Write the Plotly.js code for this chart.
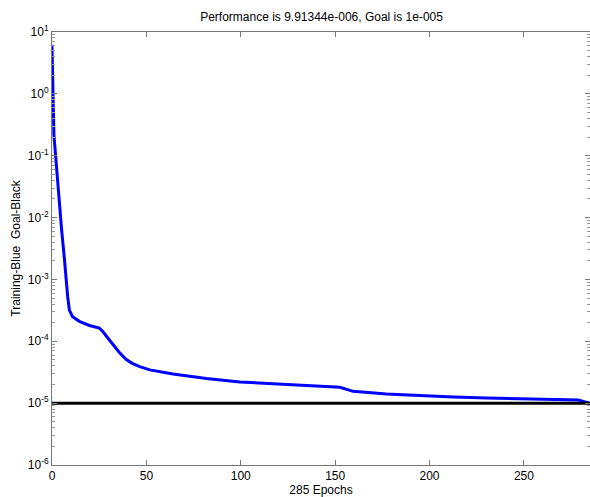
<!DOCTYPE html>
<html>
<head>
<meta charset="utf-8">
<script src="https://cdn.plot.ly/plotly-3.0.1.min.js"></script>
<style>html,body{margin:0;padding:0;background:#fff;}#chart{width:590px;height:497px;}</style>
</head>
<body>
<div id="chart"></div>
<script>
// Training performance
var epochs = [0, 1, 1.8, 3.6, 5.1, 6.6, 7.4, 8.3, 9.2, 10.9, 14.5, 19.8, 25.1, 26.9, 30.4, 33.1, 35.7, 39.2, 42.5, 46.5, 51.8, 64.1, 81.8, 99.5, 117, 134.8, 152.5, 155, 159.5, 177.2, 194.9, 212.5, 230.2, 247.9, 265.5, 278.7, 285];
var perf = [6.2, 0.22, 0.11, 0.019, 0.0063, 0.0021, 0.00098, 5.3e-4, 3.2e-4, 2.5e-4, 2.1e-4, 1.8e-4, 1.63e-4, 1.44e-4, 1.05e-4, 8.1e-5, 6.6e-5, 5.1e-5, 4.4e-5, 3.9e-5, 3.45e-5, 2.96e-5, 2.5e-5, 2.2e-5, 2.04e-5, 1.92e-5, 1.8e-5, 1.7e-5, 1.55e-5, 1.41e-5, 1.32e-5, 1.26e-5, 1.21e-5, 1.17e-5, 1.14e-5, 1.12e-5, 9.91e-6];
var goalX = [0, 285];
var goalY = [1e-5, 1e-5];
var yTickVals = [1e-6, 1e-5, 1e-4, 1e-3, 1e-2, 1e-1, 1e0, 1e1];
var yTickText = ['10<sup>-6</sup>', '10<sup>-5</sup>', '10<sup>-4</sup>', '10<sup>-3</sup>', '10<sup>-2</sup>', '10<sup>-1</sup>', '10<sup>0</sup>', '10<sup>1</sup>'];
var xTickVals = [0, 50, 100, 150, 200, 250];

var font = {family: 'Liberation Sans, Arial, sans-serif', size: 12, color: '#000'};

var traces = [
  {x: epochs, y: perf, type: 'scatter', mode: 'lines', line: {color: '#0000ff', width: 3}, hoverinfo: 'skip'},
  {x: goalX, y: goalY, type: 'scatter', mode: 'lines', line: {color: '#000000', width: 3}, hoverinfo: 'skip'}
];

var layout = {
  width: 590, height: 497,
  margin: {l: 52, r: 0, t: 32, b: 32, pad: 0},
  paper_bgcolor: '#fff', plot_bgcolor: '#fff',
  showlegend: false,
  font: font,
  title: {text: 'Performance is 9.91344e-006, Goal is 1e-005', font: font, x: 0.545, xanchor: 'center', y: 0.966, yanchor: 'middle', yref: 'container', xref: 'container'},
  xaxis: {
    range: [0, 285], tickvals: xTickVals, ticks: 'inside', ticklen: 5, tickcolor: '#777',
    showline: true, linecolor: '#777', linewidth: 1, mirror: 'ticks', showgrid: false, zeroline: false,
    tickfont: font,
    title: {text: '285 Epochs', font: font, standoff: 2}
  },
  yaxis: {
    type: 'log', range: [-6, 1], tickvals: yTickVals, ticktext: yTickText, ticks: 'inside', ticklen: 5, tickcolor: '#777',
    showline: true, linecolor: '#777', linewidth: 1, mirror: 'ticks', showgrid: false, zeroline: false,
    tickfont: font,
    minor: {ticks: 'inside', ticklen: 3, tickcolor: '#999', dtick: 'D1', showgrid: false},
    title: {text: 'Training-Blue  Goal-Black', font: font, standoff: 4}
  }
};

Plotly.newPlot('chart', traces, layout, {staticPlot: true, displayModeBar: false});
</script>
</body>
</html>
